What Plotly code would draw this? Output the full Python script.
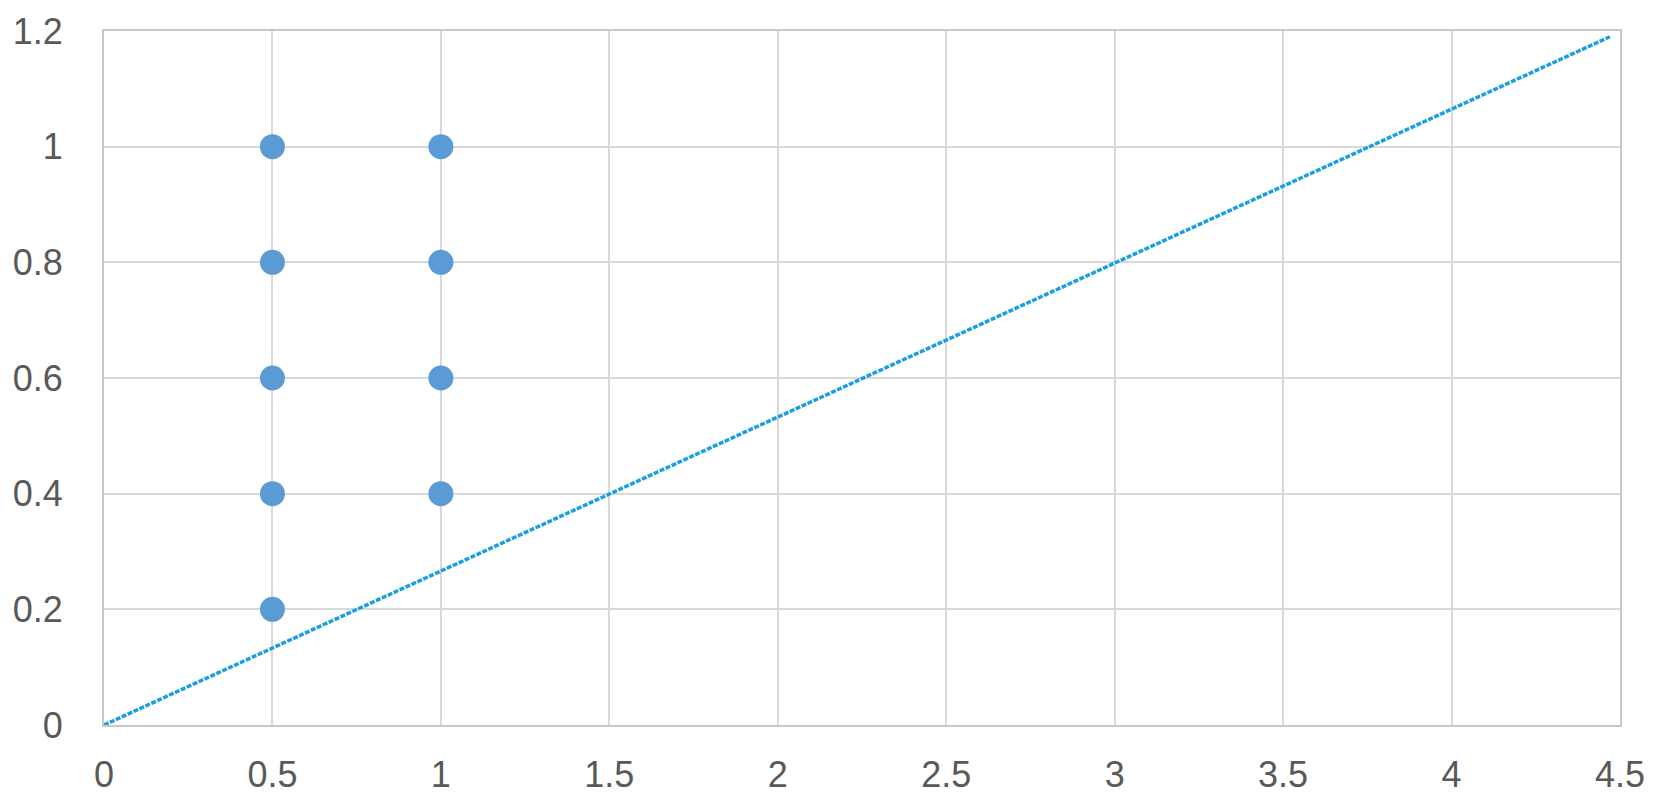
import plotly.graph_objects as go

# Data
scatter_x = [0.5, 0.5, 0.5, 0.5, 0.5, 1, 1, 1, 1]
scatter_y = [0.2, 0.4, 0.6, 0.8, 1.0, 0.4, 0.6, 0.8, 1.0]
line_x = [0, 4.47]
line_y = [0, 1.19]
x_ticks = [0, 0.5, 1, 1.5, 2, 2.5, 3, 3.5, 4, 4.5]
x_labels = ["0", "0.5", "1", "1.5", "2", "2.5", "3", "3.5", "4", "4.5"]
y_ticks = [0, 0.2, 0.4, 0.6, 0.8, 1, 1.2]
y_labels = ["0", "0.2", "0.4", "0.6", "0.8", "1", "1.2"]

fig = go.Figure()
fig.add_trace(go.Scatter(
    x=line_x, y=line_y, mode="lines",
    line=dict(color="#1c9ee0", width=3.5, dash="5px,1.5px"),
    showlegend=False, hoverinfo="skip",
))
fig.add_trace(go.Scatter(
    x=scatter_x, y=scatter_y, mode="markers",
    marker=dict(color="#5b9bd5", size=25, line=dict(width=0)),
    showlegend=False, cliponaxis=False,
))

font = dict(family="Liberation Sans, Arial, sans-serif", size=36, color="#595959")

fig.update_layout(
    width=1651, height=792,
    margin=dict(l=96, r=39, t=23, b=75, autoexpand=False),
    plot_bgcolor="white", paper_bgcolor="white",
    font=font,
    xaxis=dict(
        range=[0, 4.5], tickvals=x_ticks, ticktext=x_labels,
        showgrid=True, gridcolor="#d9d9d9", gridwidth=2,
        zeroline=False, showline=True, linecolor="#c8c8c8", linewidth=2, mirror=True,
        ticks="", ticklabelstandoff=17, tickfont=font, fixedrange=True,
        automargin=False,
    ),
    yaxis=dict(
        range=[0, 1.2], tickvals=y_ticks, ticktext=y_labels,
        showgrid=True, gridcolor="#d9d9d9", gridwidth=2,
        zeroline=False, showline=True, linecolor="#c8c8c8", linewidth=2, mirror=True,
        ticks="", ticklabelstandoff=32, tickfont=font, fixedrange=True,
        automargin=False,
    ),
)

fig.write_html("out.html")
